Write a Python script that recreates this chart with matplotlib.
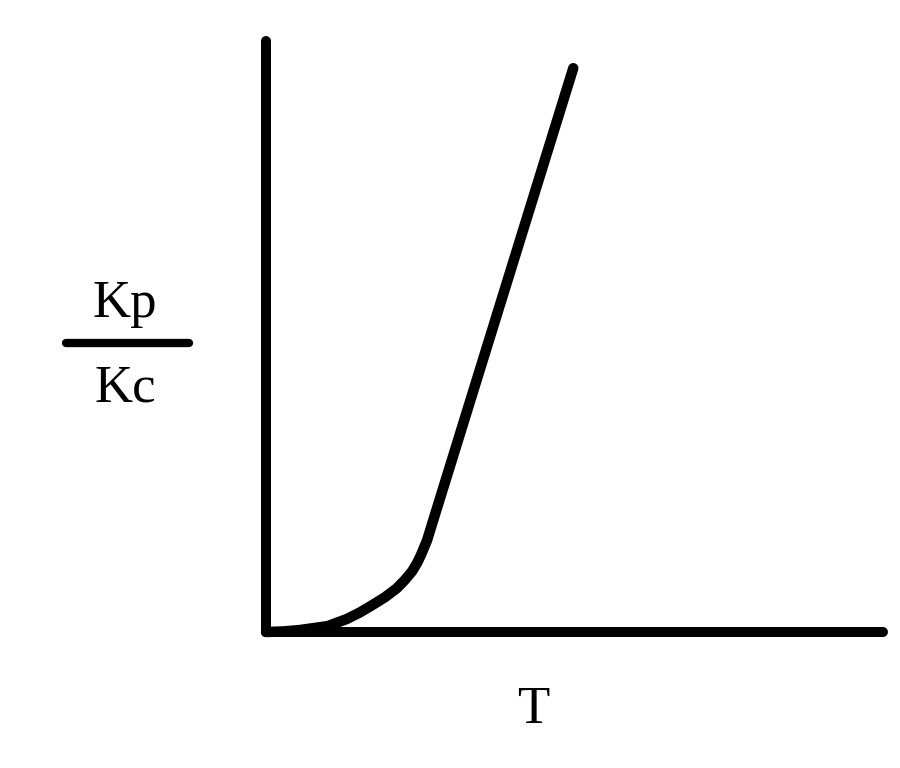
import matplotlib
matplotlib.use("Agg")
import matplotlib.pyplot as plt
from matplotlib.lines import Line2D

# Data (T vs Kp/Kc, arbitrary units)
T = [0.0, 0.28, 0.55, 1.00, 1.31, 1.52, 1.73, 1.93, 2.12, 2.25, 2.37, 2.45,
     2.51, 2.61, 2.71, 4.98]
ratio = [0.0, 0.01, 0.034, 0.10, 0.22, 0.33, 0.46, 0.59, 0.74, 0.88, 1.03,
         1.17, 1.30, 1.55, 1.89, 9.54]
x_label = "T"
y_num = "Kp"
y_den = "Kc"

W, H = 900, 768
fig = plt.figure(figsize=(9, 7.68), dpi=100)
fig.patch.set_facecolor("white")

ax = fig.add_axes([266 / W, (H - 632) / H, (883 - 266) / W, (632 - 41) / H])
ax.set_xlim(0, 10)
ax.set_ylim(0, 10)
ax.plot(T, ratio, color="black", lw=7.5, solid_capstyle="round",
        solid_joinstyle="round", clip_on=False)

for s in ["top", "right"]:
    ax.spines[s].set_visible(False)
for s in ["left", "bottom"]:
    ax.spines[s].set_linewidth(7.2)
    ax.spines[s].set_capstyle("round")
    ax.spines[s].set_color("black")
ax.set_xticks([])
ax.set_yticks([])

font = dict(family="Liberation Serif", fontsize=38, color="black")
fig.text(533 / W, (H - 723) / H, x_label, ha="center", va="baseline", **font)
fig.text(125 / W, (H - 317) / H, y_num, ha="center", va="baseline", **font)
fig.text(125 / W, (H - 402) / H, y_den, ha="center", va="baseline", **font)
fig.add_artist(Line2D([66 / W, 189 / W], [(H - 343) / H, (H - 343) / H],
                      transform=fig.transFigure, color="black", lw=6,
                      solid_capstyle="round"))

fig.savefig("out.png", dpi=100, facecolor="white")
